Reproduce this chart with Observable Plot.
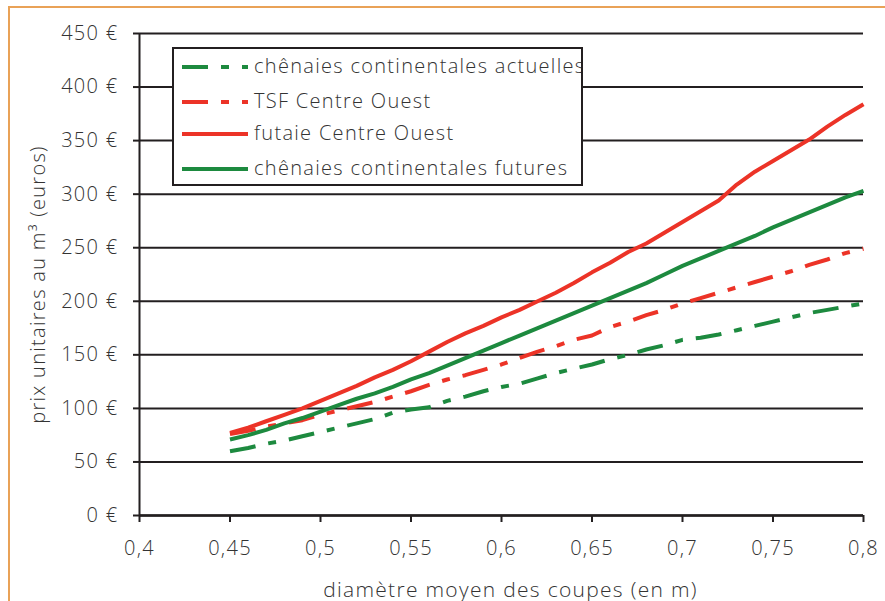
<!DOCTYPE html>
<html lang="fr">
<head>
<meta charset="utf-8">
<title>Prix unitaires au m³ selon le diamètre moyen des coupes</title>
<script src="https://cdn.jsdelivr.net/npm/d3@7"></script>
<script src="https://cdn.jsdelivr.net/npm/@observablehq/plot@0.6"></script>
<style>
  html, body { margin: 0; padding: 0; background: #fff; }
  #wrap { position: relative; width: 885px; height: 601px; overflow: hidden;
          font-family: "Open Sans", Lato, sans-serif; font-weight: 300; letter-spacing: 1.3px; }
  #frame { position: absolute; left: 8px; top: 6px; right: -10px; bottom: -10px; border-left: 2px solid #E9A257; border-top: 2px solid #E9A257; }
  #chart { position: absolute; left: 0; top: 0; }
  #chart text { font-weight: 300; letter-spacing: 1.3px; }
  #legend { position: absolute; left: 172px; top: 47px; width: 411px; height: 139px; box-sizing: border-box;
            border: 2px solid #231f20; background: #fff; overflow: hidden; }
  .row { position: absolute; left: 8px; height: 30px; display: flex; align-items: center; white-space: nowrap;
         font-size: 20px; color: #333; }
  .row svg { margin-right: 6px; }
</style>
</head>
<body>
<div id="wrap">
  <div id="frame"></div>
  <div id="chart"></div>
  <div id="legend"></div>
</div>
<script>
// Diamètre moyen des coupes (m)
const diam = [0.45, 0.46, 0.47, 0.48, 0.49, 0.50, 0.51, 0.52, 0.53, 0.54, 0.55, 0.56,
              0.57, 0.58, 0.59, 0.60, 0.61, 0.62, 0.63, 0.64, 0.65, 0.66, 0.67, 0.68,
              0.69, 0.70, 0.71, 0.72, 0.73, 0.74, 0.75, 0.76, 0.77, 0.78, 0.79, 0.80];

// Prix unitaires (€/m³) par série
const chenaiesActuelles = [60, 63, 67, 70, 74, 78, 82, 86, 90, 96, 99, 101,
                           107, 111, 116, 120, 123, 128, 133, 137, 141, 146, 150, 155,
                           159, 164, 166, 169, 173, 177, 181, 185, 189, 192, 195, 198];
const tsfCentreOuest = [76, 79, 83, 86, 89, 94, 98, 102, 106, 111, 116, 122,
                        127, 131, 136, 141, 147, 153, 158, 164, 168, 176, 181, 187,
                        192, 198, 203, 208, 213, 218, 223, 228, 234, 239, 245, 249];
const futaieCentreOuest = [77, 82, 88, 94, 100, 107, 114, 121, 129, 136, 144, 153,
                           162, 170, 177, 185, 192, 200, 208, 217, 227, 236, 246, 254,
                           264, 274, 284, 294, 309, 321, 331, 341, 351, 363, 374, 384];
const chenaiesFutures = [71, 75, 80, 86, 91, 97, 103, 109, 114, 120, 127, 133,
                         140, 147, 154, 161, 168, 175, 182, 189, 196, 203, 210, 217,
                         225, 233, 240, 247, 254, 261, 269, 276, 283, 290, 297, 303];

const seriesNames = ["chênaies continentales actuelles", "TSF Centre Ouest",
                     "futaie Centre Ouest", "chênaies continentales futures"];
const seriesValues = [chenaiesActuelles, tsfCentreOuest, futaieCentreOuest, chenaiesFutures];
const seriesColors = ["#1D8A3F", "#EC3327", "#EC3327", "#1D8A3F"];
const seriesDashes = ["26,13,8,13", "26,13,8,13", null, null];

const xTicks = [0.4, 0.45, 0.5, 0.55, 0.6, 0.65, 0.7, 0.75, 0.8];
const yTicks = [0, 50, 100, 150, 200, 250, 300, 350, 400, 450];
const xTitle = "diamètre moyen des coupes (en m)";
const yTitle = "prix unitaires au m³ (euros)";

const ink = "#231f20";
const textColor = "#333";
const fontStack = "'Open Sans', Lato, sans-serif";

const lineMarks = seriesValues.map((vals, i) => {
  const rows = diam.map((d, j) => ({d, v: vals[j]}));
  return Plot.line(rows, {
    x: "d", y: "v",
    stroke: seriesColors[i], strokeWidth: 4,
    strokeDasharray: seriesDashes[i] ?? undefined,
    strokeLinecap: "butt", strokeLinejoin: "round"
  });
});

const chart = Plot.plot({
  width: 885,
  height: 601,
  marginLeft: 139,
  marginRight: 22,
  marginTop: 33,
  marginBottom: 86,
  style: {fontFamily: fontStack, fontSize: "20px", color: textColor, background: "transparent", overflow: "visible"},
  x: {domain: [0.4, 0.8]},
  y: {domain: [0, 450]},
  marks: [
    Plot.gridY(yTicks, {stroke: ink, strokeOpacity: 1, strokeWidth: 2}),
    Plot.axisY(yTicks, {
      tickSize: 6, tickPadding: 15, stroke: ink, strokeWidth: 2,
      tickFormat: d => `${d} €`, label: null, fill: textColor
    }),
    Plot.axisX(xTicks, {
      tickSize: 7, tickPadding: 18, stroke: ink, strokeWidth: 2,
      tickFormat: d => String(d).replace(".", ","), label: null, fill: textColor
    }),
    Plot.ruleX([0.4], {stroke: ink, strokeWidth: 2}),
    Plot.ruleY([0], {stroke: ink, strokeWidth: 2.5}),
    ...lineMarks,
    Plot.text([yTitle], {frameAnchor: "left", textAnchor: "middle", rotate: -90, dx: -101, dy: 10, fill: textColor, fontSize: 20}),
    Plot.text([xTitle], {frameAnchor: "bottom", dx: 9, dy: 81, fill: textColor, fontSize: 21})
  ]
});
document.getElementById("chart").append(chart);

// Légende encadrée
const legend = d3.select("#legend");
const rowTops = [1, 36, 68, 103];
seriesNames.forEach((name, i) => {
  const row = legend.append("div").attr("class", "row").style("top", rowTops[i] + "px");
  const svg = row.append("svg").attr("width", 66).attr("height", 8).style("margin-top", "3px");
  svg.append("line")
    .attr("x1", 0).attr("x2", 66).attr("y1", 4).attr("y2", 4)
    .attr("stroke", seriesColors[i]).attr("stroke-width", 4)
    .attr("stroke-dasharray", seriesDashes[i]);
  row.append("span").text(name);
});
</script>
</body>
</html>
